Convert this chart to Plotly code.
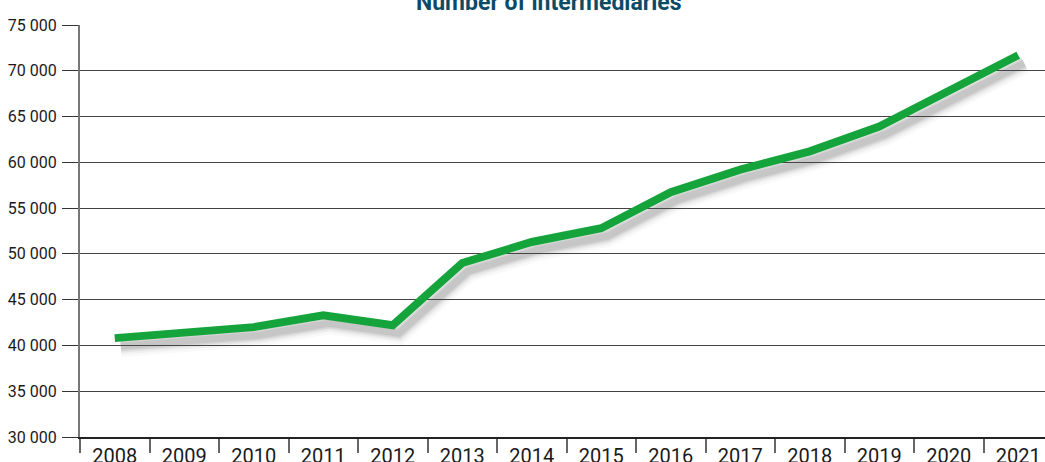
import plotly.graph_objects as go

# ---- data ----
years = ["2008", "2009", "2010", "2011", "2012", "2013", "2014",
         "2015", "2016", "2017", "2018", "2019", "2020", "2021"]
intermediaries = [40800, 41400, 42000, 43300, 42200, 49000, 51300,
                  52800, 56750, 59200, 61200, 63900, 67800, 71700]
title_text = "Number of intermediaries"

FONT = "Roboto, Liberation Sans, sans-serif"

# plot geometry helpers (pixels)
PLOT_W = 1045 - 80
PLOT_H = 462 - 25 - 25
Y_MIN, Y_MAX = 30000, 75000
cat_px = 69.5
x_range = [-0.5, -0.5 + PLOT_W / cat_px]
units_per_px_y = (Y_MAX - Y_MIN) / PLOT_H

# shadow offset (px)
sx, sy = 6, 8
x_range_shadow = [x_range[0] - sx / cat_px, x_range[1] - sx / cat_px]
y_range_shadow = [Y_MIN + sy * units_per_px_y, Y_MAX + sy * units_per_px_y]

fig = go.Figure()

# soft shadow drawn on hidden, offset axes (same data)
for w, op in [(22, 0.035), (17, 0.05), (13, 0.07), (10, 0.1), (7, 0.11)]:
    fig.add_trace(go.Scatter(
        x=years, y=intermediaries, mode="lines",
        line=dict(color=f"rgba(80,80,80,{op})", width=w),
        xaxis="x", yaxis="y", hoverinfo="skip", showlegend=False,
    ))

# main line
fig.add_trace(go.Scatter(
    x=years, y=intermediaries, mode="lines",
    line=dict(color="#15a43b", width=8),
    xaxis="x2", yaxis="y2", showlegend=False,
))

fig.update_layout(
    width=1045, height=462,
    margin=dict(l=80, r=0, t=25, b=25, autoexpand=False),
    paper_bgcolor="white", plot_bgcolor="white",
    separators=". ",
    font=dict(family=FONT, color="#1a1a1a"),
    hovermode=False,
    xaxis=dict(type="category", categoryorder="array", categoryarray=years,
               range=x_range_shadow, visible=False, automargin=False),
    yaxis=dict(range=y_range_shadow, visible=False, automargin=False),
    xaxis2=dict(type="category", categoryorder="array", categoryarray=years,
                overlaying="x", side="bottom", anchor="y2", automargin=False,
                range=x_range, tickson="boundaries",
                ticks="outside", ticklen=14, tickwidth=1.5, tickcolor="#666",
                showline=True, linecolor="#222", linewidth=1.5,
                showgrid=False, tickfont=dict(size=20, family=FONT, color="#1a1a1a"),
                ticklabelstandoff=0),
    yaxis2=dict(overlaying="y", side="left", anchor="x2", automargin=False,
                range=[Y_MIN, Y_MAX], dtick=5000, tick0=Y_MIN,
                tickformat=",d",
                showgrid=True, gridcolor="#444", gridwidth=1,
                ticks="outside", ticklen=16, tickwidth=1.2, tickcolor="#333",
                showline=True, linecolor="#777", linewidth=2,
                tickfont=dict(size=16, family=FONT, color="#1a1a1a"),
                ticklabelstandoff=2),
    annotations=[dict(
        text=f"<b>{title_text}</b>", xref="paper", yref="paper",
        x=0.486, y=1 + 7 / PLOT_H, xanchor="center", yanchor="bottom",
        showarrow=False, font=dict(size=23, family=FONT, color="#0b4b66"),
    )],
)

fig.write_html("out.html", config={"displayModeBar": False},
               post_script="document.body.style.margin='0';")
